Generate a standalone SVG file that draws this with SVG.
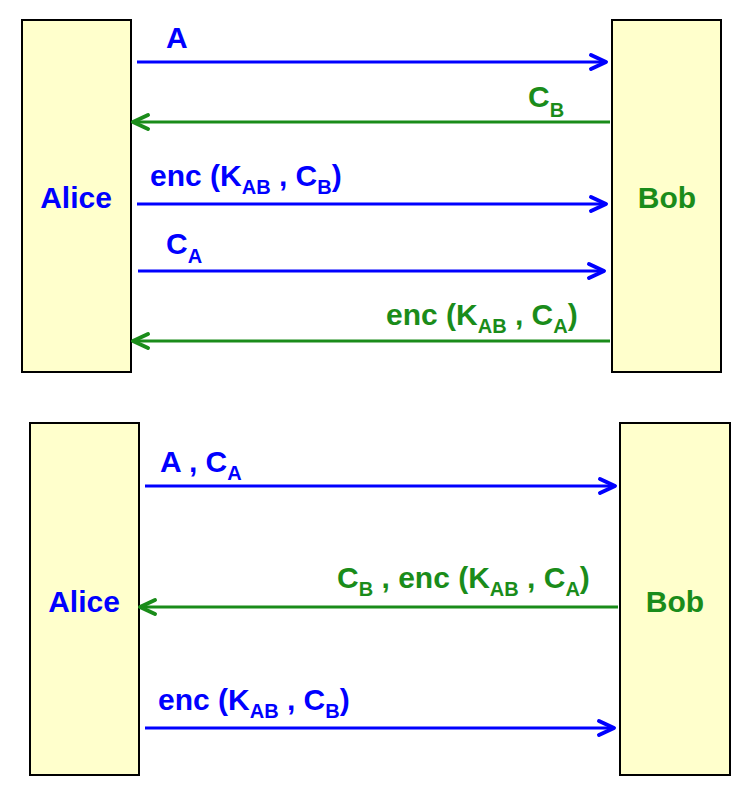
<svg xmlns="http://www.w3.org/2000/svg" width="744" height="793" viewBox="0 0 744 793">
<style>
.box{fill:#FFFFCC;stroke:#000;stroke-width:2}
text{font-family:"Liberation Sans",Arial,sans-serif;font-weight:bold;font-size:30px;white-space:pre}
.b{fill:#0000FF}
.g{fill:#1A8C1A}
.sub{font-size:20px}
.lb{stroke:#0000FF;stroke-width:3;fill:none}
.lg{stroke:#1A8C1A;stroke-width:3;fill:none}
</style>
<defs>
<marker id="ab" markerUnits="userSpaceOnUse" markerWidth="22" markerHeight="22" viewBox="-19 -11 22 22" refX="0" refY="0" orient="auto"><path d="M-15,-7 L0,0 L-15,7" fill="none" stroke="#0000FF" stroke-width="4" stroke-linecap="round" stroke-linejoin="round"/></marker>
<marker id="ag" markerUnits="userSpaceOnUse" markerWidth="22" markerHeight="22" viewBox="-19 -11 22 22" refX="0" refY="0" orient="auto"><path d="M-15,-7 L0,0 L-15,7" fill="none" stroke="#1A8C1A" stroke-width="4" stroke-linecap="round" stroke-linejoin="round"/></marker>
</defs>
<g id="alice1"><rect class="box" x="22" y="20" width="109" height="352"/><text class="b" x="76" y="208" text-anchor="middle">Alice</text></g>
<g id="bob1"><rect class="box" x="612" y="20" width="109" height="352"/><text class="g" x="667" y="208" text-anchor="middle">Bob</text></g>
<g id="alice2"><rect class="box" x="30" y="423" width="109" height="352"/><text class="b" x="84" y="612" text-anchor="middle">Alice</text></g>
<g id="bob2"><rect class="box" x="620" y="423" width="110" height="352"/><text class="g" x="675" y="612" text-anchor="middle">Bob</text></g>
<g id="connectors">
<line class="lb" x1="137" y1="62" x2="606" y2="62" marker-end="url(#ab)"/>
<line class="lg" x1="610" y1="122" x2="133" y2="122" marker-end="url(#ag)"/>
<line class="lb" x1="137" y1="204" x2="606" y2="204" marker-end="url(#ab)"/>
<line class="lb" x1="138" y1="271" x2="604" y2="271" marker-end="url(#ab)"/>
<line class="lg" x1="610" y1="341" x2="133" y2="341" marker-end="url(#ag)"/>
<line class="lb" x1="145" y1="486" x2="615" y2="486" marker-end="url(#ab)"/>
<line class="lg" x1="618" y1="607" x2="140" y2="607" marker-end="url(#ag)"/>
<line class="lb" x1="145" y1="728" x2="614" y2="728" marker-end="url(#ab)"/>
</g>
<g id="labels">
<text class="b" x="166" y="48">A</text>
<text class="g" x="528" y="107">C<tspan class="sub" dy="10">B</tspan></text>
<text class="b" x="150" y="186">enc (K<tspan class="sub" dy="8">AB</tspan><tspan dy="-8"> , C</tspan><tspan class="sub" dy="8">B</tspan><tspan dy="-8">)</tspan></text>
<text class="b" x="166" y="254">C<tspan class="sub" dy="9">A</tspan></text>
<text class="g" x="386" y="325">enc (K<tspan class="sub" dy="8">AB</tspan><tspan dy="-8"> , C</tspan><tspan class="sub" dy="8">A</tspan><tspan dy="-8">)</tspan></text>
<text class="b" x="160" y="472">A , C<tspan class="sub" dy="8">A</tspan></text>
<text class="g" x="337" y="588">C<tspan class="sub" dy="8">B</tspan><tspan dy="-8"> , enc (K</tspan><tspan class="sub" dy="8">AB</tspan><tspan dy="-8"> , C</tspan><tspan class="sub" dy="8">A</tspan><tspan dy="-8">)</tspan></text>
<text class="b" x="158" y="710">enc (K<tspan class="sub" dy="8">AB</tspan><tspan dy="-8"> , C</tspan><tspan class="sub" dy="8">B</tspan><tspan dy="-8">)</tspan></text>
</g>
</svg>
